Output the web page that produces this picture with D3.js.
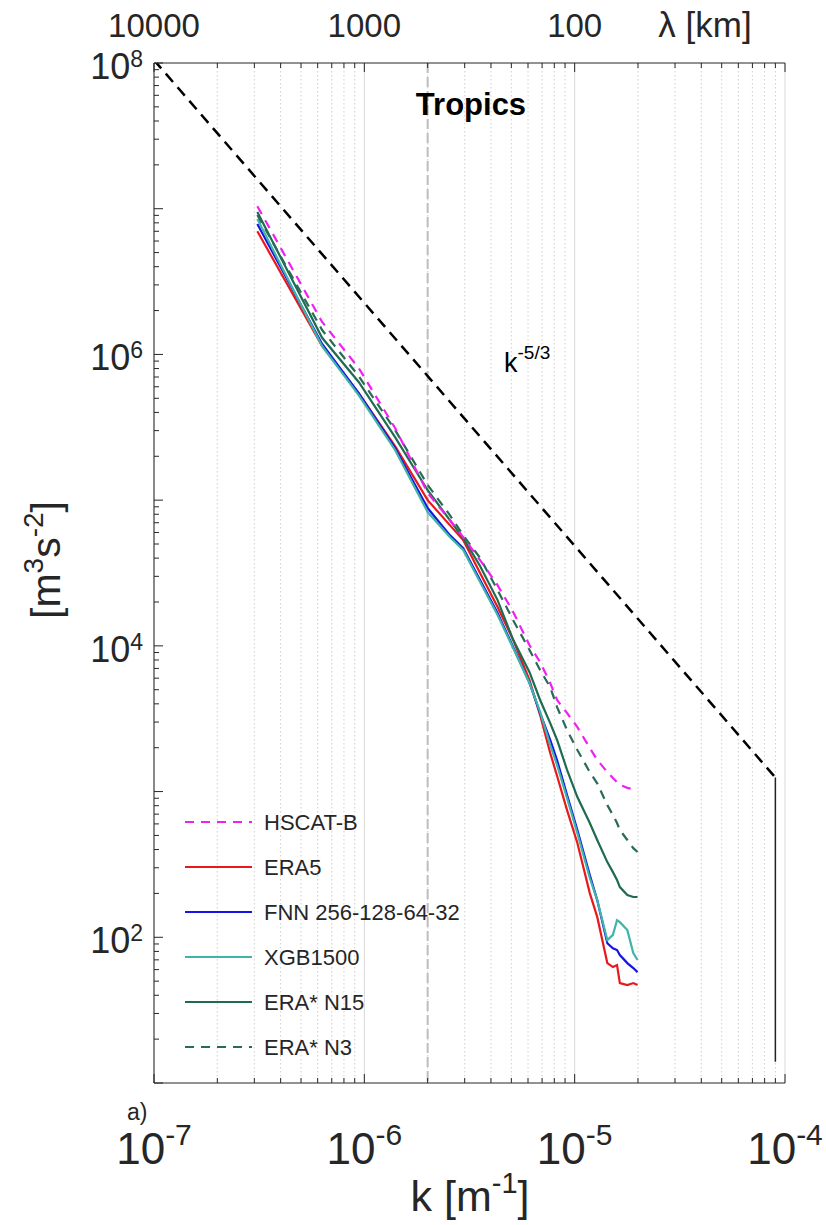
<!DOCTYPE html>
<html>
<head>
<meta charset="utf-8">
<script src="https://cdn.jsdelivr.net/npm/d3@7"></script>
<style>
  body { margin: 0; background: #fff; }
  svg { font-family: "Liberation Sans", Arial, sans-serif; }
</style>
</head>
<body>
<svg width="826" height="1225"></svg>
<script>
// wavenumbers (m^-1) where the spectra were read
const kVals = [3.1e-7, 6.3e-7, 9.4e-7, 1.4e-6, 2.0e-6, 2.55e-6, 2.95e-6, 3.55e-6, 4.3e-6, 5.1e-6,
  6.1e-6, 6.85e-6, 7.65e-6, 8.25e-6, 9.2e-6, 1.03e-5, 1.18e-5, 1.28e-5, 1.43e-5, 1.52e-5,
  1.59e-5, 1.64e-5, 1.78e-5, 1.9e-5, 1.99e-5];

const hscat = [1.04e7, 1.67e6, 8.07e5, 3.13e5, 1.12e5, 7.3e4, 5.58e4, 3.88e4, 2.61e4, 1.71e4,
  1.01e4, 7.74e3, 5.56e3, 4.25e3, 3.46e3, 2.77e3, 1.99e3, 1.65e3, 1.36e3, 1.24e3,
  1.16e3, 1.11e3, 1.06e3, 1.04e3, 1.06e3];
const era5 = [7.0e6, 1.14e6, 5.43e5, 2.35e5, 1.0e5, 6.74e4, 5.32e4, 3.16e4, 1.85e4, 1.1e4,
  5.82e3, 3.35e3, 1.84e3, 1.28e3, 746, 444, 201, 138, 66.5, 62.5,
  64.5, 48.5, 47, 48.5, 47];
const fnn = [7.85e6, 1.18e6, 5.43e5, 2.28e5, 8.83e4, 5.75e4, 4.69e4, 2.83e4, 1.68e4, 9.82e3,
  5.56e3, 3.46e3, 2.26e3, 1.64e3, 946, 544, 267, 180, 91, 84,
  81.7, 75.5, 66.5, 61.5, 57.7];
const xgb = [8.5e6, 1.14e6, 5.26e5, 2.21e5, 8.28e4, 5.58e4, 4.55e4, 2.74e4, 1.63e4, 9.66e3,
  5.56e3, 3.52e3, 2.09e3, 1.52e3, 902, 519, 255, 180, 95.7, 104,
  131, 127, 112, 78, 69.8];
const eraN15 = [9.48e6, 1.30e6, 6.47e5, 2.71e5, 1.17e5, 7.3e4, 5.5e4, 3.53e4, 2.06e4, 1.1e4,
  6.6e3, 4.25e3, 2.95e3, 2.26e3, 1.41e3, 917, 608, 465, 328, 280,
  247, 221, 195, 189, 189];
const eraN3 = [9.05e6, 1.47e6, 7.11e5, 3.03e5, 1.27e5, 7.9e4, 5.75e4, 4.01e4, 2.42e4, 1.5e4,
  9.36e3, 6.82e3, 5.21e3, 3.8e3, 2.64e3, 1.93e3, 1.36e3, 1.14e3, 807, 690,
  608, 545, 465, 409, 385];

const seriesNames = ["HSCAT-B", "ERA5", "FNN 256-128-64-32", "XGB1500", "ERA* N15", "ERA* N3"];
const seriesVals = [hscat, era5, fnn, xgb, eraN15, eraN3];
const seriesColors = ["#f020f0", "#e8191c", "#1414e6", "#40b4a8", "#1f6b50", "#2a6b58"];
const seriesDashed = [true, false, false, false, false, true];

// k^-5/3 reference line and the 500 km marker
const refK = [1e-7, 9e-5];
const refAmp = Math.pow(10, 8.02);   // value at k = 1e-7
const refDropTo = 14;
const markK = 2e-6;

const xTickExp = [-7, -6, -5, -4];
const yTickExp = [2, 4, 6, 8];
const lambdaLabels = ["10000", "1000", "100"];

const svg = d3.select("svg");
const L = 154, R = 785, T = 63, B = 1083;

const x = d3.scaleLog().domain([1e-7, 1e-4]).range([L, R]);
const y = d3.scaleLog().domain([10, 1e8]).range([B, T]);

const minorK = [];
for (let e = -7; e < -4; e++) for (let m = 1; m <= 9; m++) minorK.push(m * Math.pow(10, e));
minorK.push(1e-4);
const minorY = [];
for (let e = 1; e < 8; e++) for (let m = 1; m <= 9; m++) minorY.push(m * Math.pow(10, e));
minorY.push(1e8);

const isMajor = v => Math.abs(Math.log10(v) - Math.round(Math.log10(v))) < 1e-9;

// grid
const grid = svg.append("g");
minorK.forEach(k => {
  grid.append("line")
    .attr("x1", x(k)).attr("x2", x(k)).attr("y1", T).attr("y2", B)
    .attr("stroke", isMajor(k) ? "#d8d8d8" : "#d0d0d0")
    .attr("stroke-width", 1)
    .attr("stroke-dasharray", isMajor(k) ? null : "1.5,2.5");
});

// vertical dashed marker at k = 2e-6
svg.append("line")
  .attr("x1", x(markK)).attr("x2", x(markK)).attr("y1", T).attr("y2", B)
  .attr("stroke", "#bdbdbd").attr("stroke-width", 2).attr("stroke-dasharray", "10,4");

// clip
svg.append("clipPath").attr("id", "clip")
  .append("rect").attr("x", L).attr("y", T).attr("width", R - L).attr("height", B - T);

const plot = svg.append("g").attr("clip-path", "url(#clip)");

const refFn = k => refAmp * Math.pow(k / 1e-7, -5 / 3);
plot.append("line")
  .attr("x1", x(refK[0])).attr("y1", y(refFn(refK[0])))
  .attr("x2", x(refK[1])).attr("y2", y(refFn(refK[1])))
  .attr("stroke", "#000").attr("stroke-width", 2.5).attr("stroke-dasharray", "11,7");
plot.append("line")
  .attr("x1", x(refK[1])).attr("y1", y(refFn(refK[1])))
  .attr("x2", x(refK[1])).attr("y2", y(refDropTo))
  .attr("stroke", "#222").attr("stroke-width", 1.5);

const line = d3.line().x(d => x(d[0])).y(d => y(d[1]));
[1, 2, 3, 4, 5, 0].forEach(i => {
  plot.append("path")
    .datum(kVals.map((k, j) => [k, seriesVals[i][j]]))
    .attr("d", line)
    .attr("fill", "none")
    .attr("stroke", seriesColors[i])
    .attr("stroke-width", 2.2)
    .attr("stroke-dasharray", seriesDashed[i] ? "9,7" : null);
});

// axes
const ax = svg.append("g").attr("stroke", "#262626").attr("stroke-width", 1);
ax.append("line").attr("x1", L).attr("x2", R).attr("y1", B).attr("y2", B);
ax.append("line").attr("x1", L).attr("x2", R).attr("y1", T).attr("y2", T);
ax.append("line").attr("x1", L).attr("x2", L).attr("y1", T).attr("y2", B);
minorK.forEach(k => {
  const len = isMajor(k) ? 9 : 5;
  ax.append("line").attr("x1", x(k)).attr("x2", x(k)).attr("y1", B).attr("y2", B - len);
  ax.append("line").attr("x1", x(k)).attr("x2", x(k)).attr("y1", T).attr("y2", T + len);
});
minorY.forEach(v => {
  const len = isMajor(v) ? 9 : 5;
  ax.append("line").attr("x1", L).attr("x2", L + len).attr("y1", y(v)).attr("y2", y(v));
});

// bottom tick labels
xTickExp.forEach(e => {
  const t = svg.append("text")
    .attr("x", x(Math.pow(10, e))).attr("y", 1164)
    .attr("text-anchor", "middle").attr("font-size", 44).attr("fill", "#262626");
  t.append("tspan").text("10");
  t.append("tspan").attr("dy", -19).attr("font-size", 30).text("-" + Math.abs(e));
});

// left tick labels
yTickExp.forEach(e => {
  const t = svg.append("text")
    .attr("x", 143).attr("y", y(Math.pow(10, e)) + 16)
    .attr("text-anchor", "end").attr("font-size", 36).attr("fill", "#262626");
  t.append("tspan").text("10");
  t.append("tspan").attr("dy", -12).attr("font-size", 23).text(e);
});

// top (wavelength) labels
xTickExp.slice(0, 3).forEach((e, i) => {
  svg.append("text")
    .attr("x", x(Math.pow(10, e))).attr("y", 37)
    .attr("text-anchor", "middle").attr("font-size", 33).attr("fill", "#262626")
    .text(lambdaLabels[i]);
});
svg.append("text").attr("x", 705).attr("y", 37)
  .attr("text-anchor", "middle").attr("font-size", 35).attr("fill", "#262626")
  .text("\u03bb [km]");

// axis titles
const xl = svg.append("text").attr("x", 470).attr("y", 1211)
  .attr("text-anchor", "middle").attr("font-size", 43).attr("fill", "#262626");
xl.append("tspan").text("k [m");
xl.append("tspan").attr("dy", -18).attr("font-size", 29).text("-1");
xl.append("tspan").attr("dy", 18).text("]");

const yl = svg.append("text")
  .attr("transform", "translate(60,560) rotate(-90)")
  .attr("text-anchor", "middle").attr("font-size", 41).attr("fill", "#262626");
yl.append("tspan").text("[m");
yl.append("tspan").attr("dy", -17).attr("font-size", 28).text("3");
yl.append("tspan").attr("dy", 17).text("s");
yl.append("tspan").attr("dy", -17).attr("font-size", 28).text("-2");
yl.append("tspan").attr("dy", 17).text("]");

svg.append("text").attr("x", 471).attr("y", 115)
  .attr("text-anchor", "middle").attr("font-size", 31).attr("font-weight", "bold")
  .attr("fill", "#000").text("Tropics");

const kl = svg.append("text").attr("x", 504).attr("y", 372)
  .attr("font-size", 27).attr("fill", "#000");
kl.append("tspan").text("k");
kl.append("tspan").attr("dy", -13).attr("font-size", 19).text("-5/3");

svg.append("text").attr("x", 127).attr("y", 1120)
  .attr("font-size", 23).attr("fill", "#262626").text("a)");

// legend
const lg = svg.append("g");
seriesNames.forEach((name, i) => {
  const yy = 822 + i * 45;
  lg.append("line")
    .attr("x1", 185).attr("x2", 252).attr("y1", yy).attr("y2", yy)
    .attr("stroke", seriesColors[i]).attr("stroke-width", 2.2)
    .attr("stroke-dasharray", seriesDashed[i] ? "9,7" : null);
  lg.append("text").attr("x", 264).attr("y", yy + 8)
    .attr("font-size", 22).attr("fill", "#262626").text(name);
});
</script>
</body>
</html>
